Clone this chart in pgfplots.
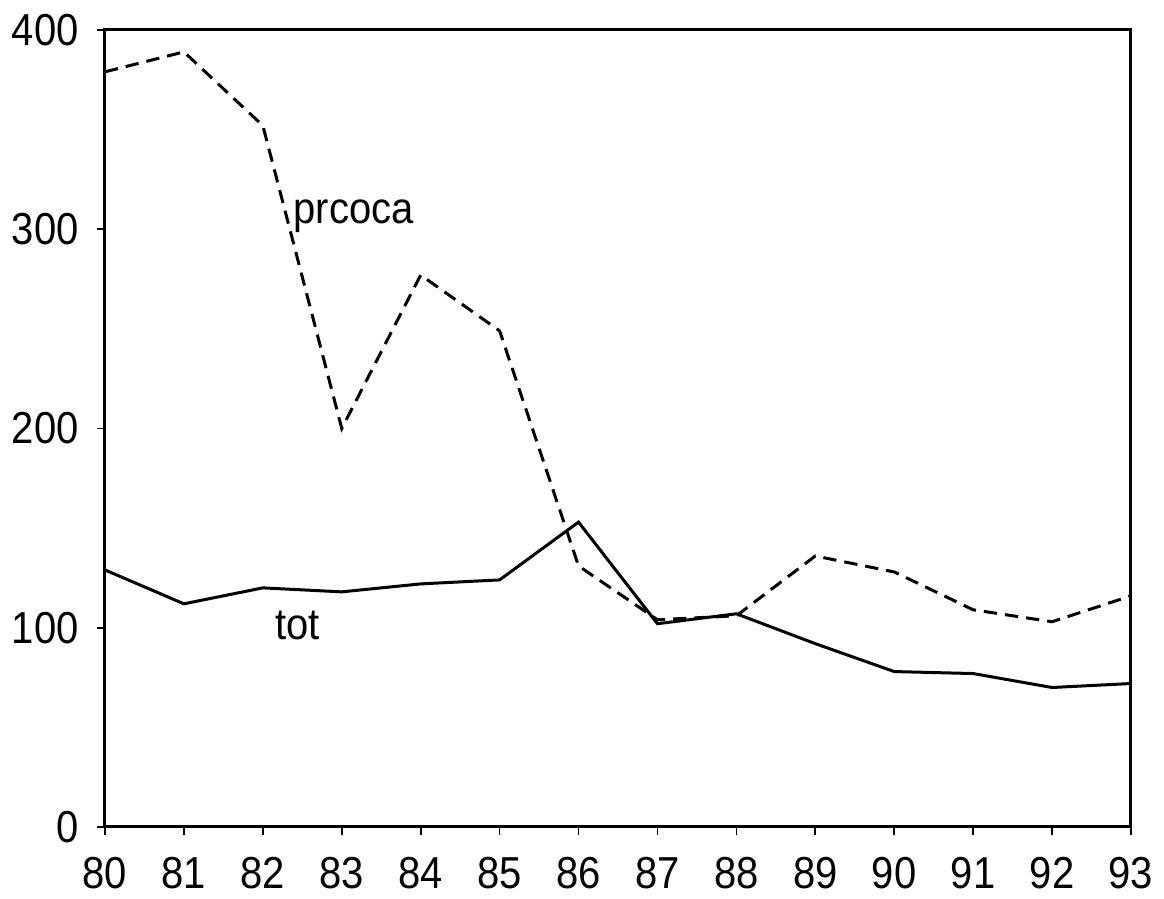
\documentclass[border=0pt]{standalone}
\usepackage{fontspec}
\setmainfont{Liberation Sans}
\usepackage{pgfplots}
\pgfplotsset{compat=1.18}

\begin{document}
\begin{tikzpicture}[x=0.3pt,y=0.3pt]
\begin{axis}[
    scale only axis,
    width=307.8pt, height=239.1pt,
    xmin=80, xmax=93,
    ymin=0, ymax=400,
    xtick={80,81,...,93},
    ytick={0,100,200,300,400},
    tick pos=left,
    tick align=outside,
    major tick length=2.4pt,
    axis line style={line width=0.9pt},
    tick style={line width=0.5pt, black},
    xticklabel style={font=\fontsize{12}{13}\selectfont, yscale=1.12, yshift=-2.5pt},
    yticklabel style={font=\fontsize{12}{13}\selectfont, yscale=1.12, xshift=-2pt},
    /pgf/number format/assume math mode=true,
    /pgf/number format/1000 sep={},
    clip=false,
]
% prcoca
\addplot[black, line width=0.9pt, dash pattern=on 4pt off 2.4pt] coordinates {
    (80,379) (81,389) (82,352) (83,200) (84,277) (85,249) (86,131)
    (87,104) (88,106) (89,136) (90,128) (91,109) (92,103) (93,116)
};
% tot
\addplot[black, line width=0.9pt] coordinates {
    (80,129) (81,112) (82,120) (83,118) (84,122) (85,124) (86,153)
    (87,102) (88,107) (89,92) (90,78) (91,77) (92,70) (93,72)
};
\node[font=\fontsize{12}{13}\selectfont, anchor=base west, inner sep=0pt, yscale=1.1] at (axis cs:82.38,303) {prcoca};
\node[font=\fontsize{12}{13}\selectfont, anchor=base west, inner sep=0pt, yscale=1.1] at (axis cs:82.15,94) {tot};
\end{axis}
\pgfresetboundingbox
\path (current axis.south west) ++(-105,-72) coordinate (bl);
\path (current axis.north east) ++(33,30) coordinate (tr);
\path (bl) rectangle (tr);
\end{tikzpicture}
\end{document}
